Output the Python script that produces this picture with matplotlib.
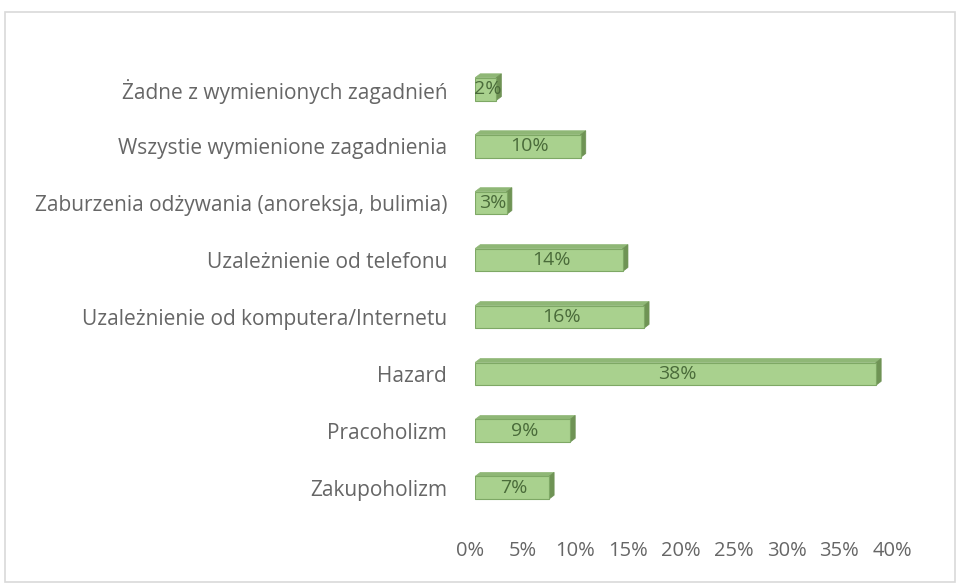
import matplotlib.pyplot as plt
from matplotlib.patches import Polygon, Rectangle
from matplotlib.transforms import ScaledTranslation

categories = ["Zakupoholizm", "Pracoholizm", "Hazard",
              "Uzależnienie od komputera/Internetu", "Uzależnienie od telefonu",
              "Zaburzenia odżywania (anoreksja, bulimia)",
              "Wszystie wymienione zagadnienia", "Żadne z wymienionych zagadnień"]
values = [7, 9, 38, 16, 14, 3, 10, 2]
ticks = [0, 5, 10, 15, 20, 25, 30, 35, 40]

front = "#a9d18e"
edge = "#7ea865"
side = "#6f9355"
top = "#8fb776"
text_gray = "#666666"

plt.rcParams['font.family'] = ['Open Sans', 'DejaVu Sans']

fig = plt.figure(figsize=(9.57, 5.84), dpi=100)
fig.patches.append(Rectangle((5 / 957, 2 / 584), 950 / 957, 570 / 584,
                             transform=fig.transFigure, fill=False,
                             edgecolor="#d9d9d9", linewidth=1.2))

ax = fig.add_axes([475 / 957, 62 / 584, 422 / 957, 467 / 584])
h = 0.4
dx, dy = 0.5, 0.07
for i, v in enumerate(values):
    ax.add_patch(Polygon([(0, i + h / 2), (v, i + h / 2), (v + dx, i + h / 2 + dy),
                          (dx, i + h / 2 + dy)], closed=True, facecolor=top,
                         edgecolor=top, linewidth=0.5))
    ax.add_patch(Polygon([(v, i - h / 2), (v, i + h / 2), (v + dx, i + h / 2 + dy),
                          (v + dx, i - h / 2 + dy)], closed=True, facecolor=side,
                         edgecolor=side, linewidth=0.5))
ax.barh(range(len(values)), values, height=h, color=front, edgecolor=edge,
        linewidth=0.8, zorder=3)
for i, v in enumerate(values):
    ax.text(v / 2 + 0.2, i, f"{v}%", ha="center", va="center", fontsize=14,
            color="#4a6b3a", zorder=4)

ax.set_xlim(0, 40)
ax.set_ylim(-0.6, 7.6)
ax.set_yticks(range(len(categories)))
ax.set_yticklabels(categories, fontsize=15, color=text_gray)
ax.set_xticks(ticks)
ax.set_xticklabels([f"{t}%" for t in ticks], fontsize=14.5, color=text_gray)
ax.tick_params(axis="y", length=0, pad=20)
ax.tick_params(axis="x", length=0, pad=14)
shift = ScaledTranslation(-5 / 100, 0, fig.dpi_scale_trans)
for lbl in ax.get_xticklabels():
    lbl.set_transform(lbl.get_transform() + shift)
for s in ax.spines.values():
    s.set_visible(False)

fig.savefig("out.png", dpi=100)
